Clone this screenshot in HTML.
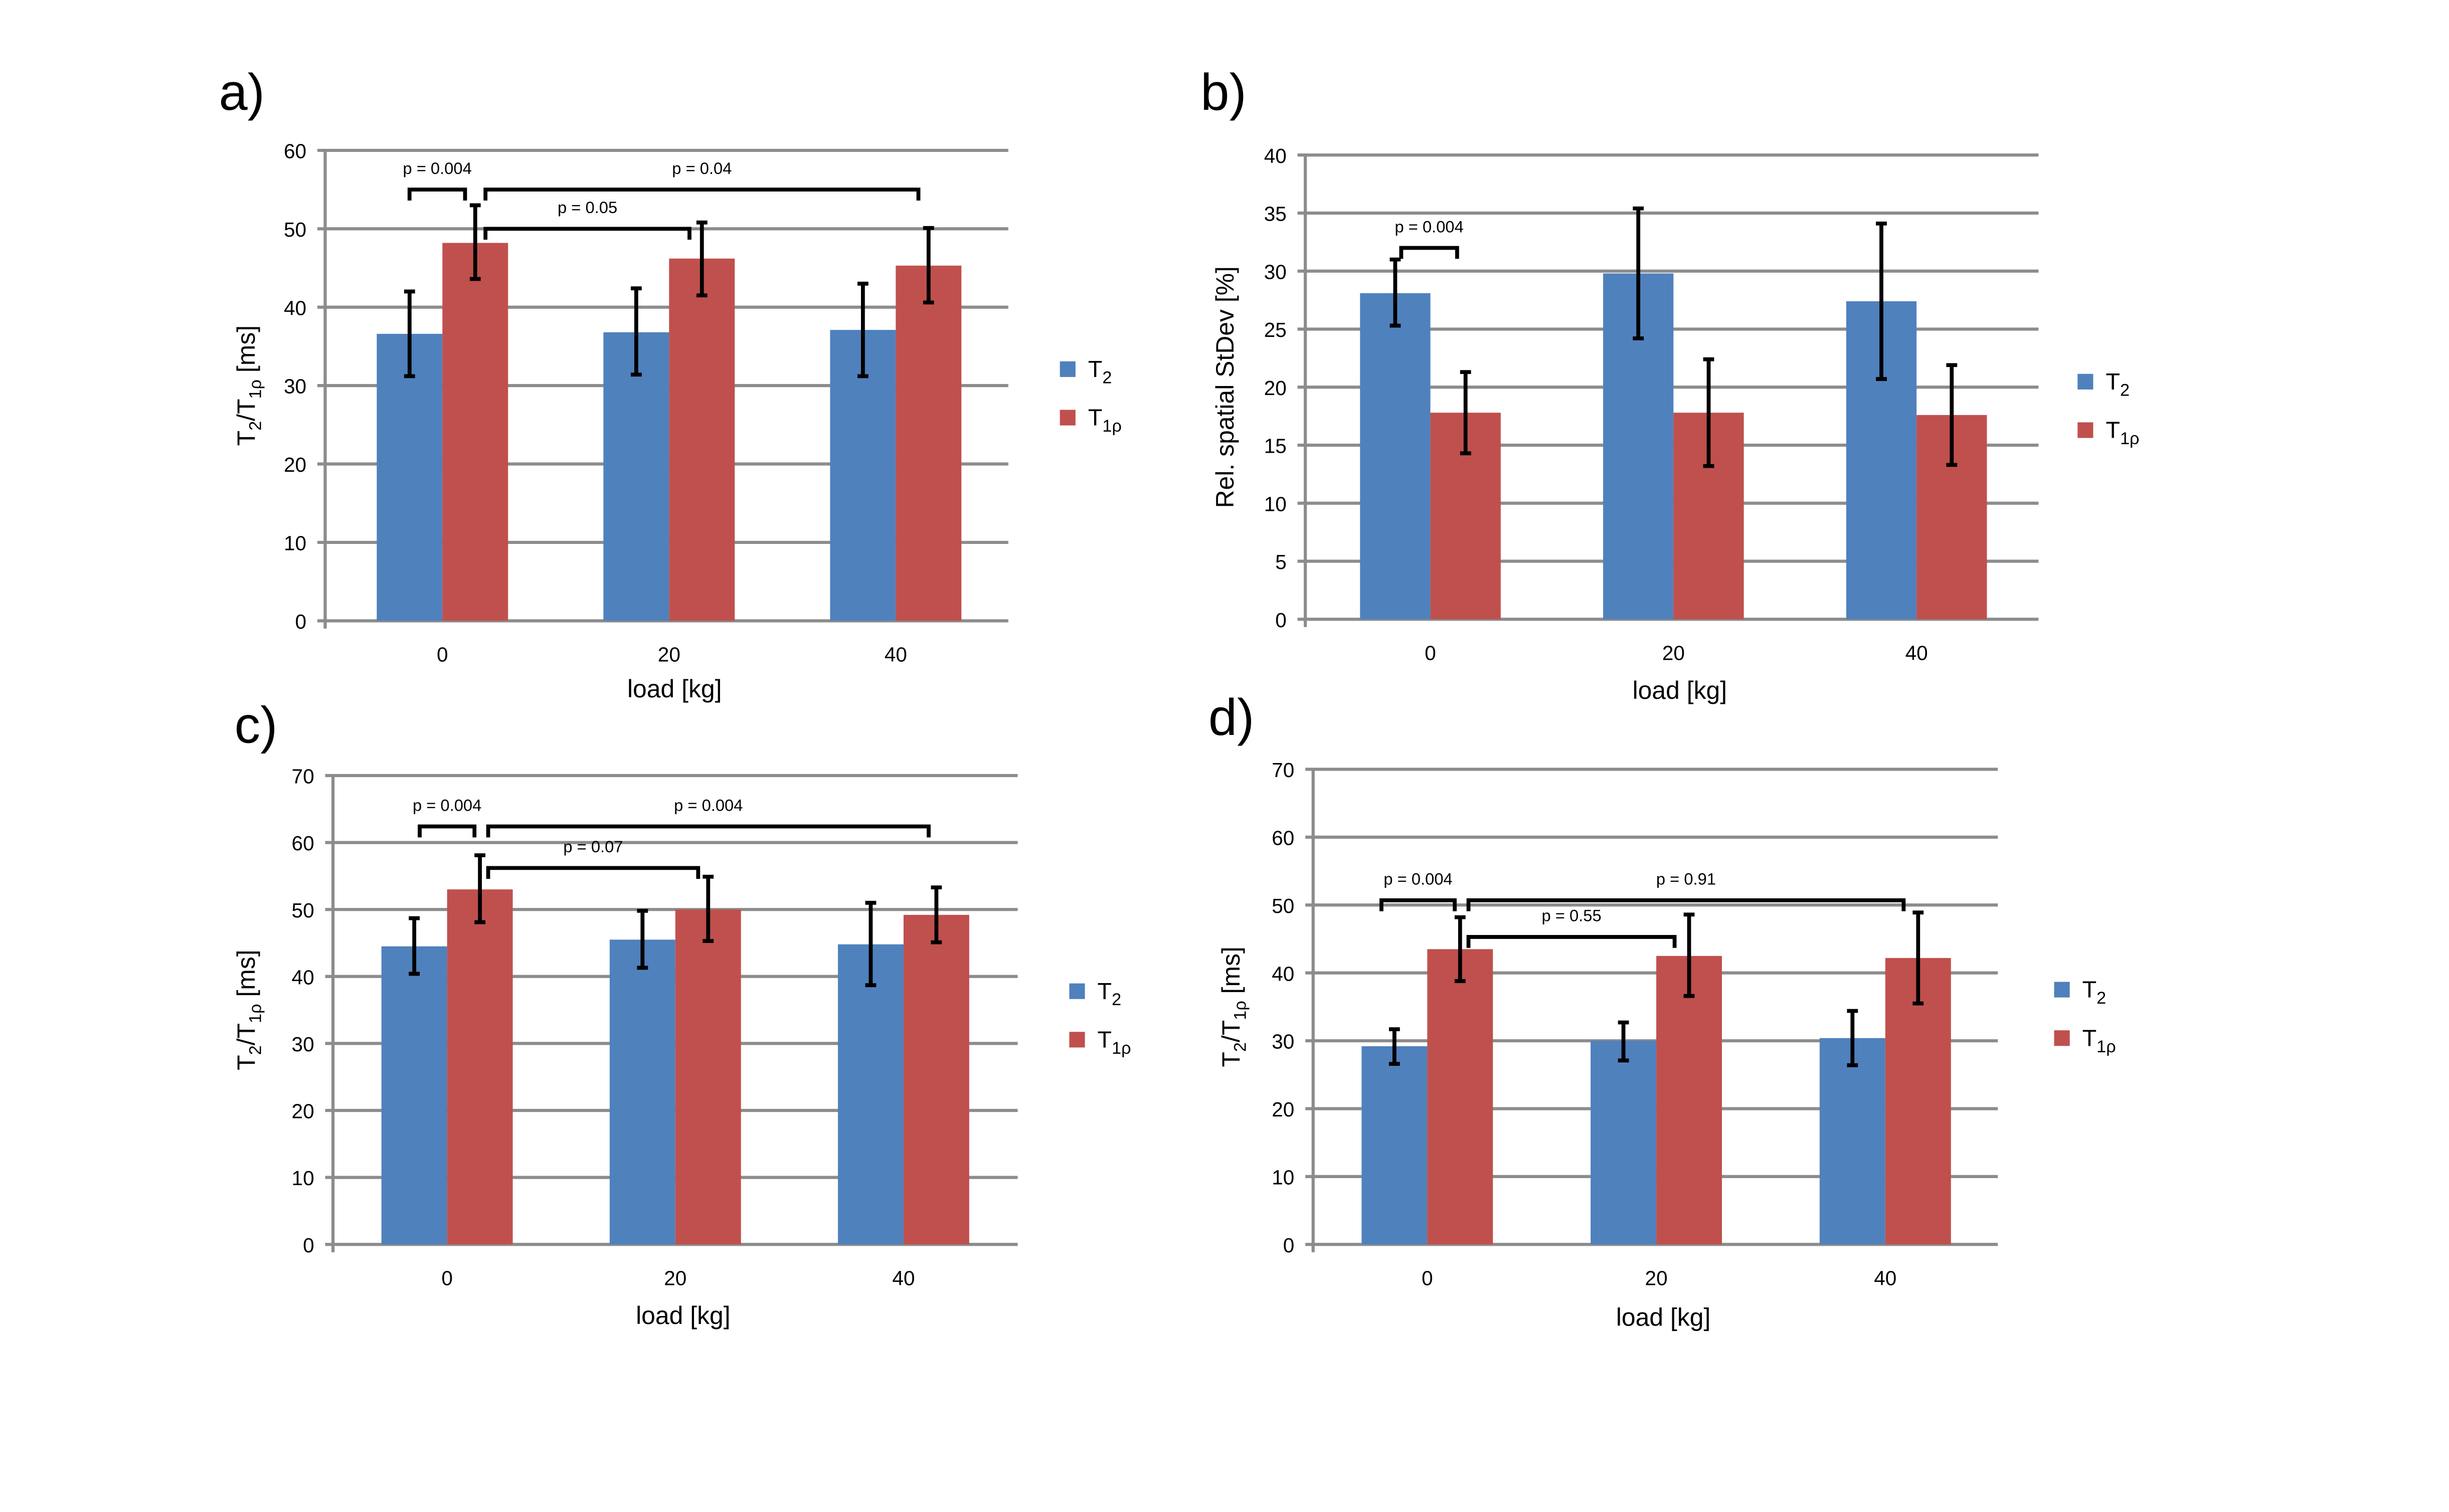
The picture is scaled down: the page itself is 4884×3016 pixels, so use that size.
<!DOCTYPE html>
<html><head><meta charset="utf-8"><style>
html,body{margin:0;padding:0;background:#fff}
svg{display:block}
text{font-family:"Liberation Sans",sans-serif;fill:#000}
</style></head><body>
<svg id="fig" width="4884" height="3016" viewBox="0 0 1566.6 967" xmlns="http://www.w3.org/2000/svg"></svg>
<script>
const categories = ["0","20","40"];
const aT2 = [36.6,36.8,37.1], aT2Lo=[31.2,31.4,31.2], aT2Hi=[42,42.4,43];
const aT1 = [48.2,46.2,45.3], aT1Lo=[43.6,41.5,40.6], aT1Hi=[53,50.8,50.1];
const bT2 = [28.1,29.8,27.4], bT2Lo=[25.3,24.2,20.7], bT2Hi=[31,35.4,34.1];
const bT1 = [17.8,17.8,17.6], bT1Lo=[14.3,13.2,13.3], bT1Hi=[21.3,22.4,21.9];
const cT2 = [44.5,45.5,44.8], cT2Lo=[40.4,41.3,38.7], cT2Hi=[48.7,49.8,51];
const cT1 = [53,50,49.2], cT1Lo=[48.1,45.3,45.1], cT1Hi=[58.1,54.9,53.3];
const dT2 = [29.2,30,30.4], dT2Lo=[26.6,27.1,26.4], dT2Hi=[31.7,32.7,34.4];
const dT1 = [43.5,42.5,42.2], dT1Lo=[38.8,36.6,35.5], dT1Hi=[48.2,48.6,48.9];
const aTicks=[0,10,20,30,40,50,60], bTicks=[0,5,10,15,20,25,30,35,40], cdTicks=[0,10,20,30,40,50,60,70];
// brackets: [cat start, cat end, value, label]
const aBr=[[-0.145,0.1,55,"p = 0.004"],[0.19,2.1,55,"p = 0.04"],[0.19,1.09,50,"p = 0.05"]];
const bBr=[[-0.12,0.11,32,"p = 0.004"]];
const cBr=[[-0.12,0.12,62.4,"p = 0.004"],[0.18,2.11,62.4,"p = 0.004"],[0.18,1.1,56.2,"p = 0.07"]];
const dBr=[[-0.2,0.12,50.7,"p = 0.004"],[0.18,2.08,50.7,"p = 0.91"],[0.18,1.08,45.3,"p = 0.55"]];

const NS="http://www.w3.org/2000/svg";
const svg=document.getElementById('fig');
function mk(tag,attrs,parent){const e=document.createElementNS(NS,tag);for(const k in attrs)e.setAttribute(k,attrs[k]);(parent||svg).appendChild(e);return e;}

const panels=[
 {id:"a",letter:"a)",lx:140,ly:70,ax:208,top:96,bot:397,right:645,c0:283,step:145,bw:42,max:60,ticks:aTicks,t2:aT2,t2l:aT2Lo,t2h:aT2Hi,t1:aT1,t1l:aT1Lo,t1h:aT1Hi,br:aBr,leg:[683,236],ytitle:"T2T1",ytx:163,xt:440},
 {id:"b",letter:"b)",lx:768,ly:70,ax:835,top:99,bot:396,right:1304,c0:915,step:155.5,bw:45,max:40,ticks:bTicks,t2:bT2,t2l:bT2Lo,t2h:bT2Hi,t1:bT1,t1l:bT1Lo,t1h:bT1Hi,br:bBr,leg:[1334,244],ytitle:"Rel. spatial StDev [%]",ytx:789,xt:441},
 {id:"c",letter:"c)",lx:150,ly:475,ax:213,top:496,bot:796,right:651,c0:286,step:146,bw:42,max:70,ticks:cdTicks,t2:cT2,t2l:cT2Lo,t2h:cT2Hi,t1:cT1,t1l:cT1Lo,t1h:cT1Hi,br:cBr,leg:[689,634],ytitle:"T2T1",ytx:163,xt:841},
 {id:"d",letter:"d)",lx:773,ly:470,ax:840,top:492,bot:796,right:1278,c0:913,step:146.5,bw:42,max:70,ticks:cdTicks,t2:dT2,t2l:dT2Lo,t2h:dT2Hi,t1:dT1,t1l:dT1Lo,t1h:dT1Hi,br:dBr,leg:[1319,633],ytitle:"T2T1",ytx:793,xt:842}
];

panels.forEach(p=>{
  const g=mk('g',{});
  
  
  const y=v=>p.bot-(v/p.max)*(p.bot-p.top);
  const xc=i=>p.c0+p.step*i;
  const L=mk('text',{x:p.lx,y:p.ly,'font-size':33},g);L.textContent=p.letter;
  
  
  p.ticks.forEach(t=>{
    const gl=mk('line',{x1:p.ax-5,x2:p.right,y1:y(t),y2:y(t),stroke:'#8c8c8c','stroke-width':2},g);
    
    
    const tl=mk('text',{x:p.ax-12,y:y(t)+5,'font-size':13,'text-anchor':'end'},g);tl.textContent=t;
    
    
  });
  const ya=mk('line',{x1:p.ax,x2:p.ax,y1:p.top,y2:p.bot+5,stroke:'#8c8c8c','stroke-width':2},g);
  
  
  categories.forEach((c,i)=>{
    const b1=mk('rect',{x:xc(i)-p.bw,y:y(p.t2[i]),width:p.bw,height:p.bot-y(p.t2[i]),fill:'#4f81bd'},g);
    
    
    const b2=mk('rect',{x:xc(i),y:y(p.t1[i]),width:p.bw,height:p.bot-y(p.t1[i]),fill:'#c0504d'},g);
    
    
    [[xc(i)-p.bw/2,p.t2l[i],p.t2h[i]],[xc(i)+p.bw/2,p.t1l[i],p.t1h[i]]].forEach(e=>{
      const eg=mk('path',{d:`M${e[0]},${y(e[1])}V${y(e[2])}M${e[0]-3.5},${y(e[1])}h7M${e[0]-3.5},${y(e[2])}h7`,stroke:'#000','stroke-width':2.5,fill:'none'},g);
      
      
    });
    const xl=mk('text',{x:xc(i),y:p.bot+26,'font-size':13,'text-anchor':'middle'},g);xl.textContent=c;
    
    
  });
  p.br.forEach(b=>{
    const x1=p.c0+p.step*b[0], x2=p.c0+p.step*b[1], yy=y(b[2]);
    const bp=mk('path',{d:`M${x1},${yy+7}V${yy}H${x2}V${yy+7}`,stroke:'#000','stroke-width':2.5,fill:'none'},g);
    
    
    const bt=mk('text',{x:(x1+x2)/2,y:yy-10,'font-size':10.5,'text-anchor':'middle'},g);bt.textContent=b[3];
    
    
  });
  const xt=mk('text',{x:(p.ax+p.right)/2+5,y:p.xt+6,'font-size':16,'text-anchor':'middle'},g);xt.textContent='load [kg]';
  
  
  const cy=(p.top+p.bot)/2;
  const yt=mk('text',{x:0,y:0,'font-size':16,'text-anchor':'middle',transform:`translate(${p.ytx},${cy}) rotate(-90)`},g);
  
  
  if(p.ytitle==="T2T1"){
    yt.innerHTML='T<tspan font-size="11" dy="4">2</tspan><tspan dy="-4">/T</tspan><tspan font-size="11" dy="4">1ρ</tspan><tspan dy="-4"> [ms]</tspan>';
  } else yt.textContent=p.ytitle;
  const [lx,ly]=p.leg;
  [['#4f81bd','2'],['#c0504d','1ρ']].forEach((e,k)=>{
    const yy=ly+k*31;
    const sw=mk('rect',{x:lx-5,y:yy-5,width:10,height:10,fill:e[0]},g);
    
    
    const lt=mk('text',{x:lx+13,y:yy+5,'font-size':15},g);
    
    
    lt.innerHTML='T<tspan font-size="11" dy="4">'+e[1]+'</tspan>';
  });
});
</script>
</body></html>
